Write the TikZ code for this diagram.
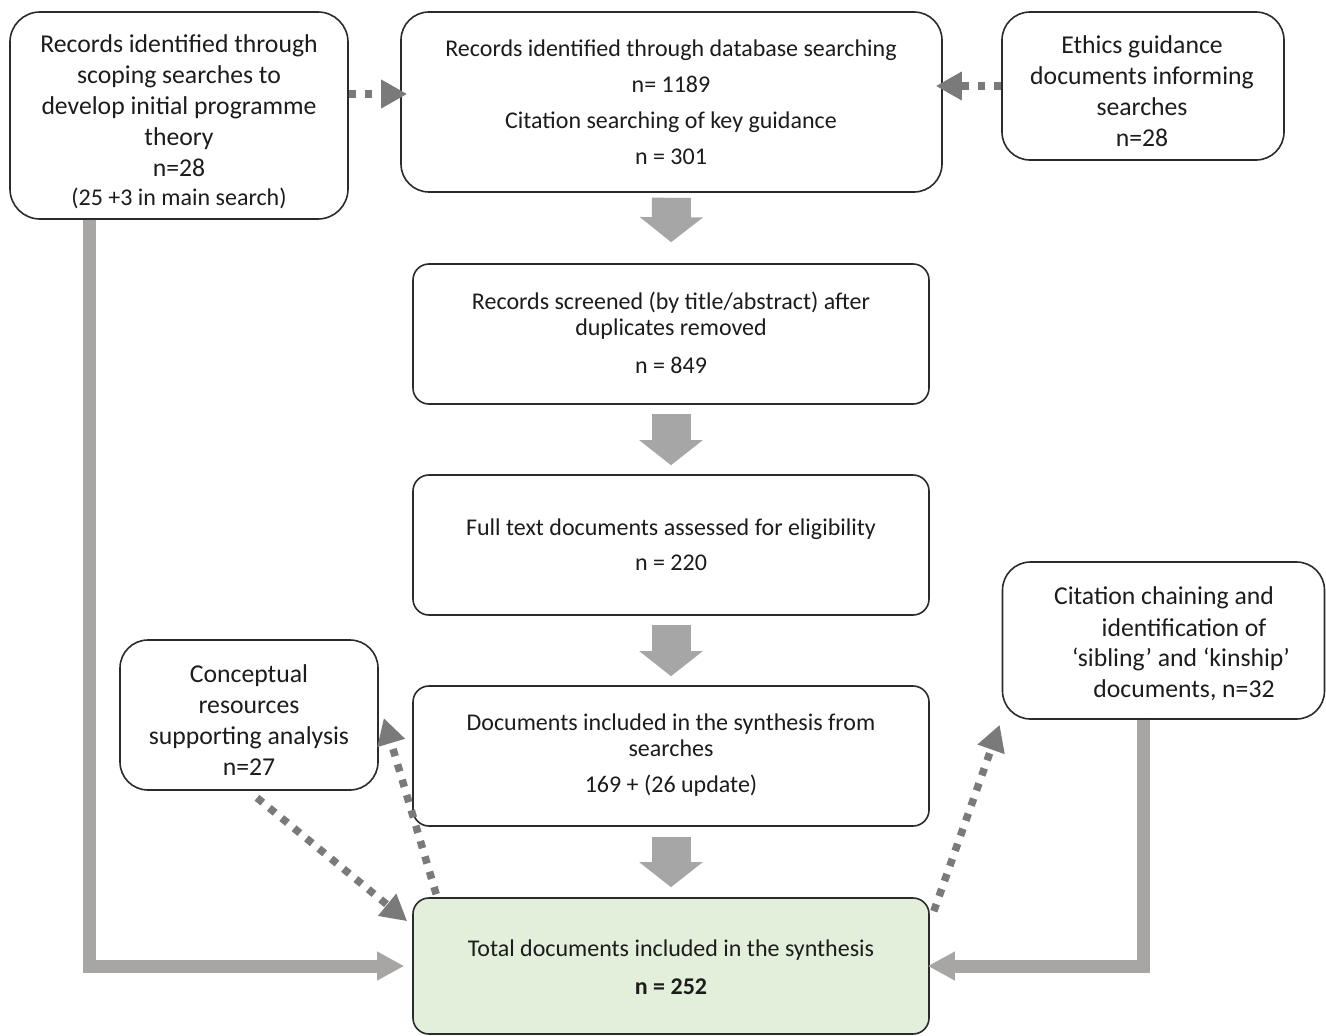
\documentclass[tikz,border=0pt]{standalone}
\usepackage{fontspec}
\setmainfont{Carlito}
\usetikzlibrary{arrows.meta,calc}
\definecolor{boxline}{HTML}{2B2B2B}
\definecolor{txt}{HTML}{1C1C1C}
\definecolor{blockgray}{HTML}{A6A6A6}
\definecolor{lgray}{HTML}{A8A5A5}
\definecolor{dotgray}{HTML}{7A7A7A}
\definecolor{greenfill}{HTML}{E2EFDA}
\begin{document}
\begin{tikzpicture}[x=1pt,y=-1pt,
  box/.style={draw=boxline, line width=1.6pt, fill=white, inner sep=0pt, rounded corners=#1},
  box/.default=16pt,
  bigtxt/.style={text=txt, align=center, font=\fontsize{25.7}{31}\selectfont},
  midtxt/.style={text=txt, align=center, font=\fontsize{24}{36}\selectfont},
  blockarrow/.style={draw=blockgray, line width=39pt, -{Triangle[width=62pt,length=25pt]}},
  larrow/.style={draw=lgray, line width=13pt, -{Triangle[width=27pt,length=27pt]}},
  dotarrow/.style={draw=dotgray, line width=7.5pt, dash pattern=on 7.5pt off 8.5pt, -{Triangle[width=27pt,length=26pt]}}
]
\useasboundingbox[fill=white] (0,0) rectangle (1326,1036);

% boxes
\node[box=30pt, minimum width=338pt, minimum height=207pt] (lb) at (179,115.5) {};
\node[box=28pt, minimum width=541pt, minimum height=180pt] (cb) at (671.5,102) {};
\node[box=28pt, minimum width=282pt, minimum height=148pt] (rb) at (1143,86) {};
\node[box=16pt, minimum width=516pt, minimum height=140pt] (sb) at (671,334) {};
\node[box=16pt, minimum width=516pt, minimum height=140pt] (fb) at (671,545) {};
\node[box=16pt, minimum width=516pt, minimum height=140pt] (db) at (671,756) {};
\node[box=16pt, fill=greenfill, minimum width=516pt, minimum height=136pt] (tb) at (671,966) {};
\node[box=28pt, minimum width=258pt, minimum height=150pt] (kb) at (249,715) {};
\node[box=28pt, minimum width=322pt, minimum height=157pt] (ccb) at (1163.5,640.5) {};

% texts
\node[bigtxt] (lbt) at (179,122) {Records identified through\\scoping searches to\\develop initial programme\\theory\\n=28\\[-2pt]{\fontsize{24}{27}\selectfont (25 +3 in main search)}};
\node[midtxt] (cbt) at (671,102) {Records identified through database searching\\n= 1189\\Citation searching of key guidance\\n = 301};
\node[bigtxt] (rbt) at (1142,91) {Ethics guidance\\documents informing\\searches\\n=28};
\node[midtxt, font=\fontsize{24}{26}\selectfont] (sbt) at (671,333) {Records screened (by title/abstract) after\\duplicates removed\\[12pt]n = 849};
\node[midtxt, font=\fontsize{24}{35}\selectfont] (fbt) at (671,545) {Full text documents assessed for eligibility\\n = 220};
\node[midtxt, font=\fontsize{24}{26}\selectfont] (dbt) at (671,755) {Documents included in the synthesis from\\searches\\[10pt]169 + (26 update)};
\node[midtxt, font=\fontsize{24}{38}\selectfont] (tbt) at (671,967) {Total documents included in the synthesis\\\textbf{n = 252}};
\node[bigtxt] (kbt) at (249,720) {Conceptual\\resources\\supporting analysis\\n=27};
\node[bigtxt] (cc1) at (1164,598) {Citation chaining and};
\node[bigtxt] (cc2) at (1184,628) {identification of};
\node[bigtxt] (cc3) at (1181,659) {‘sibling’ and ‘kinship’};
\node[bigtxt] (cc4) at (1184,690) {documents, n=32};

% block arrows down
\draw[blockarrow, shorten <=5pt, shorten >=21pt] (cb.south) -- (sb.north);
\draw[blockarrow, shorten <=9pt, shorten >=9pt] (sb.south) -- (fb.north);
\draw[blockarrow, shorten <=9pt, shorten >=9pt] (fb.south) -- (db.north);
\draw[blockarrow, shorten <=10pt, shorten >=10pt] (db.south) -- (tb.north);

% L-shaped arrows
\draw[larrow, shorten >=8pt] ([xshift=-89.5pt]lb.south) |- (tb.west);
\draw[larrow, shorten >=-2pt] ([xshift=-20.5pt]ccb.south) |- (tb.east);

% dotted arrows
\draw[dotarrow] ([shift={(0,-21.5)}]lb.east) -- ([shift={(7,-8)}]cb.west);
\draw[dotarrow] (rb.west) -- ([shift={(-7,-16)}]cb.east);
\draw[dotarrow] ([shift={(8,7)}]kb.south) -- ([shift={(-5,24)}]tb.north west);
\draw[dotarrow] ([shift={(24,-3)}]tb.north west) -- ([shift={(5,3)}]kb.east);
\draw[dotarrow] ([shift={(4,14)}]tb.north east) -- ([shift={(-2,5)}]ccb.south west);
\end{tikzpicture}
\end{document}
